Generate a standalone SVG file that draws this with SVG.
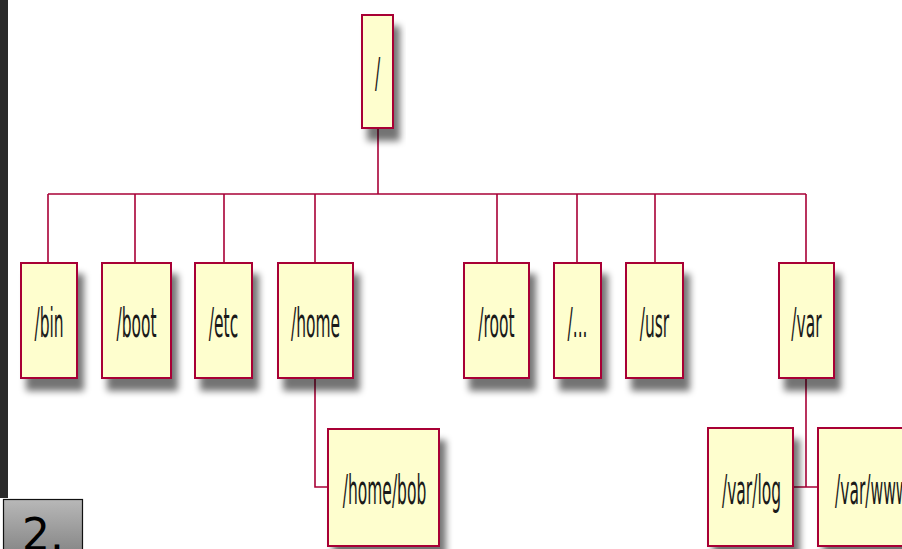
<svg xmlns="http://www.w3.org/2000/svg" width="902" height="549" viewBox="0 0 902 549">
<defs>
<filter id="sh" x="-30%" y="-30%" width="170%" height="170%">
<feGaussianBlur in="SourceAlpha" stdDeviation="3.5"/>
<feOffset dx="6" dy="12" result="b"/>
<feComponentTransfer><feFuncA type="linear" slope="0.55"/></feComponentTransfer>
<feMerge><feMergeNode/><feMergeNode in="SourceGraphic"/></feMerge>
</filter>
<linearGradient id="lg" x1="0" y1="0" x2="0" y2="1">
<stop offset="0" stop-color="#b8b8b8"/>
<stop offset="1" stop-color="#858585"/>
</linearGradient>
</defs>
<style>
.box{fill:#FEFECE;stroke:#A80036;stroke-width:2;filter:url(#sh)}
.t{font-family:"DejaVu Sans",sans-serif;font-size:15.5px;fill:#1a1a1a;text-anchor:middle}
.c{stroke:#A80036;stroke-width:1.6;fill:none}
</style>
<rect x="0" y="0" width="902" height="549" fill="#ffffff"/>
<rect x="0" y="0" width="8" height="498" fill="#2a2a2a"/>
<g id="connectors">
<path class="c" d="M378 128V194"/>
<path class="c" d="M48 194H806" stroke-width="3"/>
<path class="c" d="M48 194V263M135 194V263M224 194V263M315 194V263M497 194V263M577 194V263M655 194V263M806 194V263"/>
<path class="c" d="M315 378V487H328"/>
<path class="c" d="M806 378V487M793 487H818"/>
</g>
<g id="n-root"><rect class="box" x="362" y="15" width="31" height="113"/><text class="t" transform="translate(377.5 87) scale(1 2.6)">/</text></g>
<g id="n-bin"><rect class="box" x="21" y="263" width="56" height="115"/><text class="t" transform="translate(49 337) scale(1 2.6)">/bin</text></g>
<g id="n-boot"><rect class="box" x="102" y="263" width="69" height="115"/><text class="t" transform="translate(136.5 337) scale(1 2.6)">/boot</text></g>
<g id="n-etc"><rect class="box" x="195" y="263" width="57" height="115"/><text class="t" transform="translate(223.5 337) scale(1 2.6)">/etc</text></g>
<g id="n-home"><rect class="box" x="278" y="263" width="75" height="115"/><text class="t" transform="translate(315.5 337) scale(1 2.6)">/home</text></g>
<g id="n-rootdir"><rect class="box" x="464" y="263" width="65" height="115"/><text class="t" transform="translate(496.5 337) scale(1 2.6)">/root</text></g>
<g id="n-dots"><rect class="box" x="554" y="263" width="47" height="115"/><text class="t" transform="translate(577.5 337) scale(1 2.6)">/...</text></g>
<g id="n-usr"><rect class="box" x="626" y="263" width="57" height="115"/><text class="t" transform="translate(654.5 337) scale(1 2.6)">/usr</text></g>
<g id="n-var"><rect class="box" x="779" y="263" width="55" height="115"/><text class="t" transform="translate(806.5 337) scale(1 2.6)">/var</text></g>
<g id="n-homebob"><rect class="box" x="328" y="429" width="111" height="117"/><text class="t" transform="translate(384.5 504) scale(1 2.6)">/home/bob</text></g>
<g id="n-varlog"><rect class="box" x="708" y="428" width="85" height="118"/><text class="t" transform="translate(751.5 504) scale(1 2.6)">/var/log</text></g>
<g id="n-varwww"><rect class="box" x="818" y="428" width="112" height="118"/><text class="t" style="text-anchor:start" transform="translate(835 504) scale(1 2.6)">/var/www</text></g>
<g id="label">
<rect x="3.5" y="499.5" width="79" height="55" fill="url(#lg)" stroke="#111" stroke-width="1.2"/>
<text x="22" y="550" font-family="DejaVu Sans, sans-serif" font-size="44" fill="#000">2.</text>
</g>
</svg>
